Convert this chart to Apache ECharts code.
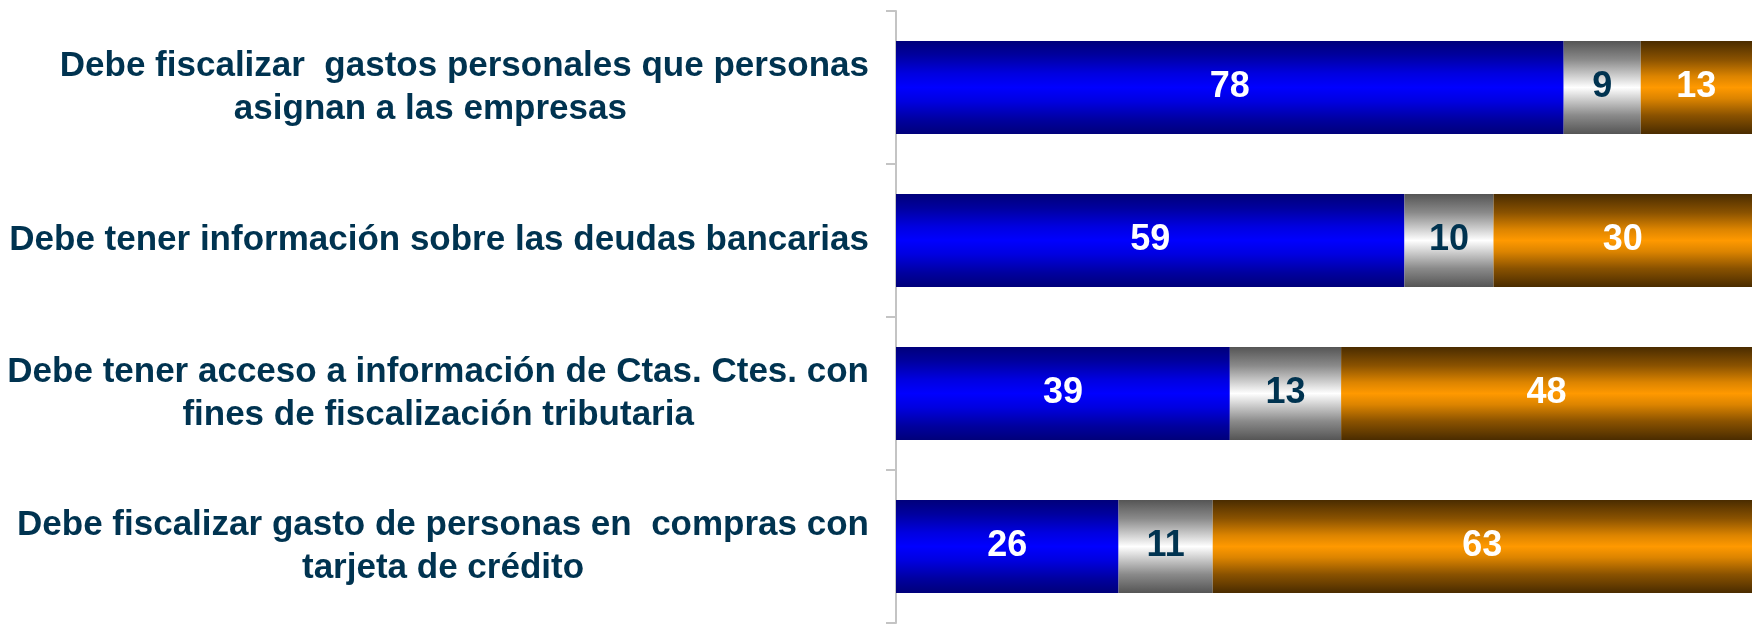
<!DOCTYPE html>
<html>
<head>
<meta charset="utf-8">
<script src="https://cdn.jsdelivr.net/npm/echarts@6/dist/echarts.min.js"></script>
<style>
  html, body { margin: 0; padding: 0; background: #ffffff; }
  #chart { width: 1763px; height: 624px; }
</style>
</head>
<body>
<div id="chart"></div>
<script>
const categories = [
  "Debe fiscalizar  gastos personales que personas\nasignan a las empresas\u00a0\u00a0\u00a0\u00a0\u00a0\u00a0\u00a0",
  "Debe tener información sobre las deudas bancarias",
  "Debe tener acceso a información de Ctas. Ctes. con\nfines de fiscalización tributaria",
  "Debe fiscalizar gasto de personas en  compras con\ntarjeta de crédito"
];
const blueValues = [78, 59.4, 39, 26];
const grayValues = [9, 10.4, 13, 11];
const orangeValues = [13, 30.2, 48, 63];

function vGrad(stops) {
  return new echarts.graphic.LinearGradient(0, 0, 0, 1,
    stops.map(s => ({ offset: s[0], color: s[1] })));
}
const blueGrad = vGrad([[0,'#00007a'],[0.15,'#00009e'],[0.35,'#0000e0'],[0.5,'#0000ff'],[0.65,'#0000e0'],[0.85,'#00009e'],[1,'#00007a']]);
const grayGrad = vGrad([[0,'#555555'],[0.2,'#8a8a8a'],[0.38,'#d0d0d0'],[0.5,'#ffffff'],[0.62,'#d0d0d0'],[0.8,'#8a8a8a'],[1,'#555555']]);
const orangeGrad = vGrad([[0,'#4a2c00'],[0.2,'#8a5200'],[0.38,'#dc8400'],[0.5,'#ff9900'],[0.62,'#dc8400'],[0.8,'#8a5200'],[1,'#4a2c00']]);

const FONT = '"Liberation Sans", Arial, sans-serif';
function lbl(color) {
  return {
    show: true, position: 'inside',
    color: color, fontFamily: FONT, fontWeight: 'bold', fontSize: 36,
    formatter: p => Math.round(p.value)
  };
}

const chart = echarts.init(document.getElementById('chart'));
chart.setOption({
  animation: false,
  backgroundColor: '#ffffff',
  grid: { left: 896, right: 11, top: 11, bottom: 1, containLabel: false },
  xAxis: {
    type: 'value', min: 0, max: 100,
    show: false
  },
  yAxis: {
    type: 'category', inverse: true, data: categories,
    axisLine: { show: true, lineStyle: { color: '#c4c4c4', width: 2 } },
    axisTick: { show: true, length: 10, lineStyle: { color: '#c4c4c4', width: 2 } },
    axisLabel: {
      margin: 27, align: 'right',
      formatter: v => v.split('\n').map(l => '{c|' + l + '}').join('\n'),
      rich: {
        c: { align: 'center', fontFamily: FONT, fontWeight: 'bold', fontSize: 35, lineHeight: 43, color: '#003350' }
      }
    }
  },
  series: [
    { type: 'bar', stack: 't', barWidth: 93, data: blueValues, itemStyle: { color: blueGrad }, label: lbl('#ffffff') },
    { type: 'bar', stack: 't', barWidth: 93, data: grayValues, itemStyle: { color: grayGrad }, label: lbl('#003350') },
    { type: 'bar', stack: 't', barWidth: 93, data: orangeValues, itemStyle: { color: orangeGrad }, label: lbl('#ffffff') }
  ]
});
</script>
</body>
</html>
